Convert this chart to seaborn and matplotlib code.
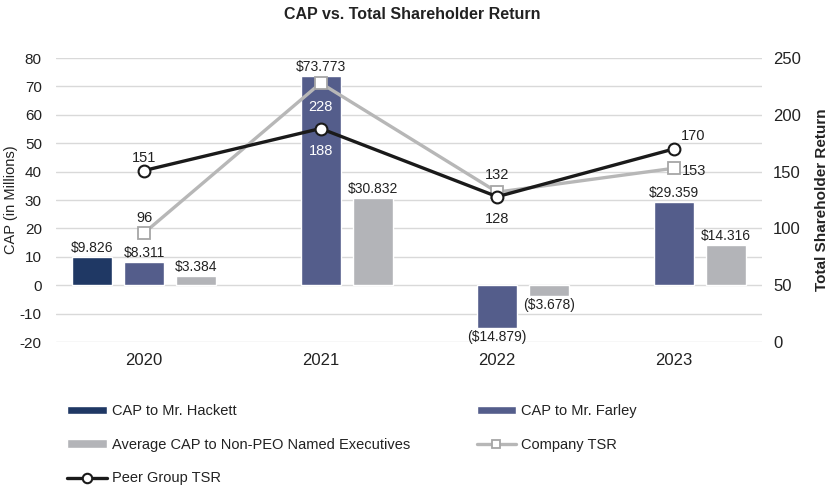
import numpy as np
import pandas as pd
import matplotlib
matplotlib.use("Agg")
import matplotlib.pyplot as plt
import seaborn as sns

# ---- data ----
years = ["2020", "2021", "2022", "2023"]
cap_hackett = [9.826, np.nan, np.nan, np.nan]
cap_farley = [8.311, 73.773, -14.879, 29.359]
cap_non_peo = [3.384, 30.832, -3.678, 14.316]
company_tsr = [96, 228, 132, 153]
peer_tsr = [151, 188, 128, 170]

series_names = ["CAP to Mr. Hackett", "CAP to Mr. Farley",
                "Average CAP to Non-PEO Named Executives"]
bar_colors = ["#1f3864", "#545d8b", "#b3b4b8"]

df = pd.DataFrame({
    "year": years * 3,
    "series": np.repeat(series_names, len(years)),
    "cap": cap_hackett + cap_farley + cap_non_peo,
})

sns.set_theme(style="white")
plt.rcParams["font.family"] = ["Liberation Sans", "DejaVu Sans"]
plt.rcParams["axes.unicode_minus"] = False

fig = plt.figure(figsize=(8.32, 4.88), dpi=100)
ax = fig.add_axes([0.067, 0.299, 0.849, 0.582])

sns.barplot(data=df, x="year", y="cap", hue="series", hue_order=series_names,
            palette=bar_colors, width=0.886, gap=0.23, dodge=True,
            legend=False, ax=ax, saturation=1, errorbar=None)

def fmt_money(v):
    return f"(${-v:.3f})" if v < 0 else f"${v:.3f}"

for cont in ax.containers:
    ax.bar_label(cont, fmt=fmt_money, padding=1.5, fontsize=10, color="#222222")

ax.set_xlim(-0.5, 3.5)
ax.set_ylim(-20, 80)
ax.set_yticks(range(-20, 81, 10))
ax.yaxis.grid(True, color="#d9d9d9", lw=1)
ax.set_axisbelow(True)
ax.set_xlabel("")
ax.set_ylabel("CAP (in Millions)", fontsize=10.5, color="#222222")
ax.yaxis.set_label_coords(-0.053, 0.5)
ax.tick_params(axis="x", labelsize=12, length=0, pad=8, colors="#222222")
ax.tick_params(axis="y", labelsize=11, length=0, pad=10, colors="#222222")
for s in ax.spines.values():
    s.set_visible(False)

# ---- TSR lines on right axis ----
ax2 = ax.twinx()
xpos = np.arange(len(years))
sns.lineplot(x=xpos, y=company_tsr, ax=ax2, color="#b7b7b7", lw=2.4,
             marker="s", markersize=8, markerfacecolor="white",
             markeredgecolor="#a6a6a6", markeredgewidth=1.3)
sns.lineplot(x=xpos, y=peer_tsr, ax=ax2, color="#1a1a1a", lw=2.4,
             marker="o", markersize=8.5, markerfacecolor="white",
             markeredgecolor="#1a1a1a", markeredgewidth=1.5)
ax2.set_ylim(0, 250)
ax2.set_yticks(range(0, 251, 50))
ax2.set_xlim(-0.5, 3.5)
ax2.set_ylabel("Total Shareholder Return", fontsize=11, fontweight="bold",
               color="#222222", labelpad=10)
ax2.tick_params(axis="y", labelsize=12, length=0, pad=8, colors="#222222")
for s in ax2.spines.values():
    s.set_visible(False)

# value labels (offsets in points)
peer_offsets = [(0, 9, "center"), (0, -16, "center"), (0, -16, "center"), (5, 9, "left")]
comp_offsets = [(0, 11, "center"), (0, -17, "center"), (0, 12, "center"), (6, -2, "left")]
peer_colors = ["#222222", "white", "#222222", "#222222"]
comp_colors = ["#222222", "white", "#222222", "#222222"]
for i in range(len(years)):
    dx, dy, ha = peer_offsets[i]
    ax2.annotate(str(peer_tsr[i]), (xpos[i], peer_tsr[i]), xytext=(dx, dy),
                 textcoords="offset points", ha=ha, va="center",
                 fontsize=10.5, color=peer_colors[i])
    dx, dy, ha = comp_offsets[i]
    ax2.annotate(str(company_tsr[i]), (xpos[i], company_tsr[i]), xytext=(dx, dy),
                 textcoords="offset points", ha=ha, va="center",
                 fontsize=10.5, color=comp_colors[i])

fig.suptitle("CAP vs. Total Shareholder Return", y=0.985, x=0.495,
             fontsize=11.5, fontweight="bold", color="#222222")

# ---- legend, two columns laid out like the original ----
bars = ax.containers
lines = ax2.get_lines()
leg_kw = dict(frameon=False, fontsize=10.5, handlelength=2.7,
              handleheight=0.5, handletextpad=0.35, labelspacing=1.35,
              borderaxespad=0, borderpad=0, labelcolor="#222222",
              markerscale=0.8)
fig.legend([bars[0], bars[2], lines[1]],
           [series_names[0], series_names[2], "Peer Group TSR"],
           loc="upper left", bbox_to_anchor=(0.081, 0.172), **leg_kw)
fig.legend([bars[1], lines[0]], [series_names[1], "Company TSR"],
           loc="upper left", bbox_to_anchor=(0.573, 0.172), **leg_kw)

fig.savefig("out.png", dpi=100)
